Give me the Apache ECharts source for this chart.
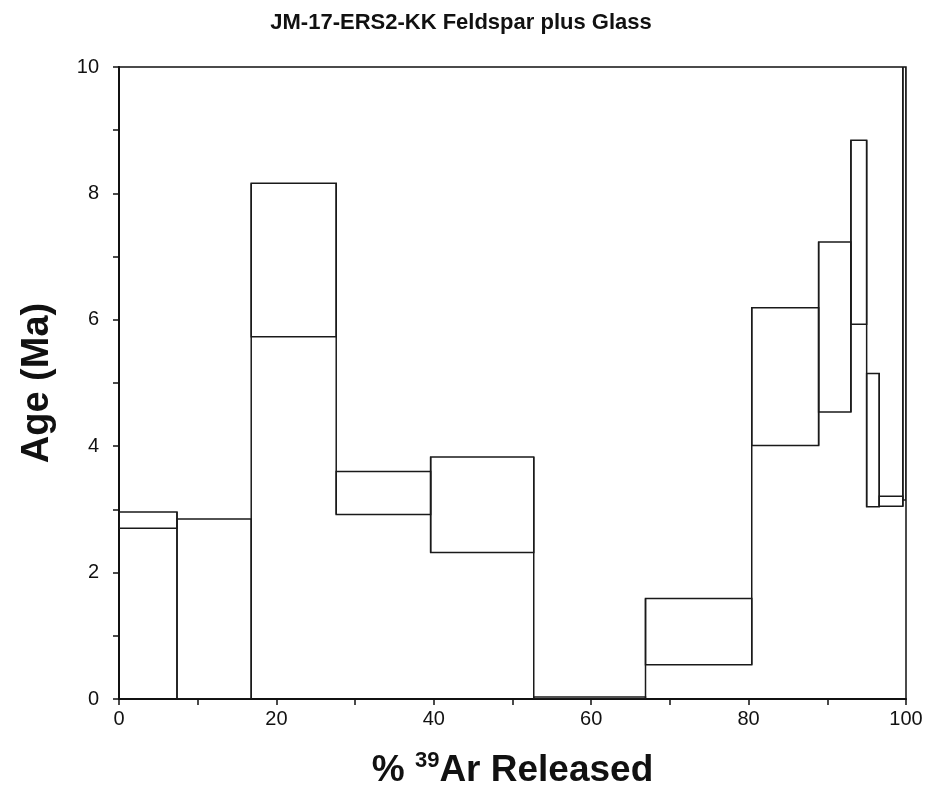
<!DOCTYPE html>
<html>
<head>
<meta charset="utf-8">
<title>JM-17-ERS2-KK Feldspar plus Glass</title>
<script src="https://cdn.jsdelivr.net/npm/echarts@6/dist/echarts.min.js"></script>
<style>
  html, body { margin: 0; padding: 0; background: #fff; }
  #chart { width: 928px; height: 794px; }
</style>
</head>
<body>
<div id="chart"></div>
<script>
// Cumulative % 39Ar released at the end of each heating step
const stepEnd = [7.37, 16.8, 27.6, 39.6, 52.7, 66.9, 80.4, 88.9, 93.0, 95.0, 96.6, 99.6, 100];
// Lower and upper edge of each step's age box (Ma)
const ageLow  = [2.70, 0.00, 5.73, 2.92, 2.32, 0.00, 0.54, 4.01, 4.54, 5.93, 3.04, 3.05, 3.15];
const ageHigh = [2.96, 2.85, 8.16, 3.60, 3.83, 0.03, 1.59, 6.19, 7.23, 8.84, 5.15, 3.21, 10.4];

const xTicks = [0, 20, 40, 60, 80, 100];
const yTicks = [0, 2, 4, 6, 8, 10];

const FONT = '"Liberation Sans", Arial, sans-serif';

// One item per step: [start, end, low, high, nextLow, nextHigh]
const steps = stepEnd.map((end, i) => {
  const start = i === 0 ? 0 : stepEnd[i - 1];
  const last = i === stepEnd.length - 1;
  return [start, end, ageLow[i], ageHigh[i],
          last ? ageLow[i] : ageLow[i + 1],
          last ? ageHigh[i] : ageHigh[i + 1]];
});

const chart = echarts.init(document.getElementById('chart'), null, { renderer: 'canvas' });

chart.setOption({
  backgroundColor: '#fff',
  animation: false,
  title: {
    text: 'JM-17-ERS2-KK Feldspar plus Glass',
    left: 456,
    textAlign: 'center',
    top: 7,
    textStyle: { fontFamily: FONT, fontSize: 22, fontWeight: 'bold', color: '#111' }
  },
  grid: {
    left: 119, right: 22, top: 67, bottom: 93,
    show: true, borderColor: '#111', borderWidth: 1.5,
    containLabel: false
  },
  xAxis: {
    type: 'value',
    min: 0, max: 100, interval: 20,
    name: '{t|% }{s|39}{t|Ar Released}',
    nameLocation: 'middle',
    nameGap: 48,
    nameTextStyle: {
      rich: {
        t: { fontFamily: FONT, fontSize: 37, fontWeight: 'bold', color: '#111', verticalAlign: 'bottom', lineHeight: 42 },
        s: { fontFamily: FONT, fontSize: 22, fontWeight: 'bold', color: '#111', verticalAlign: 'top', lineHeight: 42, padding: [3, 0, 0, 0] }
      }
    },
    axisLine: { show: true, onZero: false, lineStyle: { color: '#111', width: 2 } },
    axisTick: { show: true, inside: false, length: 6, lineStyle: { color: '#111', width: 1.5 } },
    minorTick: { show: true, splitNumber: 2, length: 6, lineStyle: { color: '#111', width: 1.5 } },
    splitLine: { show: false },
    axisLabel: {
      margin: 10,
      fontFamily: FONT, fontSize: 20, color: '#111',
      formatter: v => (xTicks.indexOf(v) >= 0 ? String(v) : '')
    }
  },
  yAxis: {
    type: 'value',
    min: 0, max: 10, interval: 2,
    name: 'Age (Ma)',
    nameLocation: 'middle',
    nameGap: 62,
    nameTextStyle: { fontFamily: FONT, fontSize: 38, fontWeight: 'bold', color: '#111' },
    axisLine: { show: true, onZero: false, lineStyle: { color: '#111', width: 2 } },
    axisTick: { show: true, inside: false, length: 6, lineStyle: { color: '#111', width: 1.5 } },
    minorTick: { show: true, splitNumber: 2, length: 6, lineStyle: { color: '#111', width: 1.5 } },
    splitLine: { show: false },
    axisLabel: {
      margin: 20,
      fontFamily: FONT, fontSize: 20, color: '#111',
      formatter: v => (yTicks.indexOf(v) >= 0 ? String(v) : '')
    }
  },
  series: [{
    type: 'custom',
    name: 'Age spectrum',
    clip: true,
    data: steps,
    encode: { x: [0, 1], y: [2, 3] },
    renderItem: function (params, api) {
      const x0 = api.value(0), x1 = api.value(1);
      const lo = api.value(2), hi = api.value(3);
      const nLo = api.value(4), nHi = api.value(5);
      const pTL = api.coord([x0, hi]);
      const pBR = api.coord([x1, lo]);
      const style = { fill: null, stroke: '#1a1a1a', lineWidth: 1.5 };
      const children = [{
        type: 'rect',
        shape: { x: pTL[0], y: pTL[1], width: pBR[0] - pTL[0], height: pBR[1] - pTL[1] },
        style: style
      }];
      // vertical connector to the next step
      if (params.dataIndex < steps.length - 1) {
        const top = api.coord([x1, Math.max(hi, nHi)]);
        const bot = api.coord([x1, Math.min(lo, nLo)]);
        children.push({
          type: 'line',
          shape: { x1: top[0], y1: top[1], x2: bot[0], y2: bot[1] },
          style: { stroke: '#1a1a1a', lineWidth: 1.5 }
        });
      }
      return { type: 'group', children: children };
    }
  }]
});
</script>
</body>
</html>
